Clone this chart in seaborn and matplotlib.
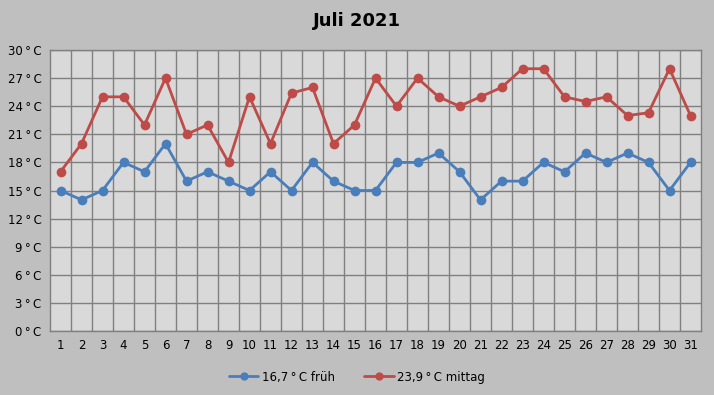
import matplotlib
matplotlib.use("Agg")
import matplotlib.pyplot as plt
import seaborn as sns
import pandas as pd
import numpy as np

days = list(range(1, 32))
frueh = [15, 14, 15, 18, 17, 20, 16, 17, 16, 15, 17, 15, 18, 16, 15, 15, 18, 18, 19, 17,
         14, 16, 16, 18, 17, 19, 18, 19, 18, 15, 18]
mittag = [17, 20, 25, 25, 22, 27, 21, 22, 18, 25, 20, 25.4, 26, 20, 22, 27, 24, 27, 25, 24,
          25, 26, 28, 28, 25, 24.5, 25, 23, 23.3, 28, 23]
series_names = ["16,7\u2009°\u2009C früh", "23,9\u2009°\u2009C mittag"]
y_ticks = list(range(0, 31, 3))
title = "Juli 2021"

df = pd.DataFrame({
    "Tag": days * 2,
    "Temp": frueh + mittag,
    "Serie": [series_names[0]] * len(days) + [series_names[1]] * len(days),
})

sns.set_theme(style="white")
plt.rcParams["font.family"] = ["DejaVu Sans"]
plt.rcParams["text.color"] = "black"

bg = "#BFBFBF"
fig = plt.figure(figsize=(7.14, 3.95), dpi=100, facecolor=bg)
ax = fig.add_axes([50 / 714, 1 - 331 / 395, 651 / 714, 281 / 395])
ax.set_facecolor("#D9D9D9")

palette = {series_names[0]: "#4A7EBB", series_names[1]: "#BE4B48"}
sns.lineplot(data=df, x="Tag", y="Temp", hue="Serie", palette=palette, marker="o",
             markersize=7, markeredgewidth=0, linewidth=2, ax=ax, legend=True)

ax.set_xlim(0.5, 31.5)
ax.set_ylim(0, 30)
ax.set_xticks(days)
ax.set_xticklabels([str(d) for d in days], fontsize=8.5)
ax.set_xticks(np.arange(1.5, 31, 1), minor=True)
ax.set_yticks(y_ticks)
ax.set_yticklabels([f"{v}\u2009°\u2009C" for v in y_ticks], fontsize=8.5)
ax.tick_params(axis="both", which="both", length=0, pad=6, colors="#000000")
ax.grid(True, which="major", axis="y", color="#808080", linewidth=1)
ax.grid(True, which="minor", axis="x", color="#808080", linewidth=1)
ax.grid(False, which="major", axis="x")
ax.set_axisbelow(True)
for s in ax.spines.values():
    s.set_color("#808080")
    s.set_linewidth(1)
ax.set_xlabel("")
ax.set_ylabel("")

handles, labels = ax.get_legend_handles_labels()
for h in handles:
    h.set_markersize(6)
ax.legend_.remove()
fig.legend(handles, labels, loc="center", bbox_to_anchor=(0.5, 1 - 377 / 395), ncol=2,
           frameon=False, fontsize=8.5, handlelength=2.5, columnspacing=2.5, handletextpad=0.3,
           labelcolor="black")

fig.text(0.5, 1 - 21 / 395, title, ha="center", va="center", fontsize=13,
         fontweight="bold", color="black")

fig.savefig("out.png", dpi=100, facecolor=bg)
